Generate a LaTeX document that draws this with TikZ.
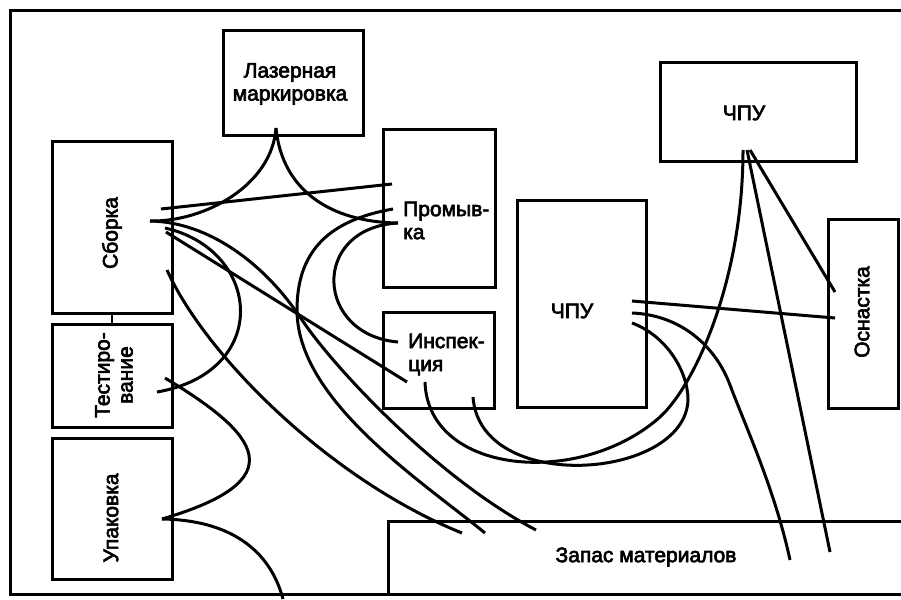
\documentclass[tikz,border=0pt]{standalone}
\usepackage{fontspec}
\setmainfont{Liberation Sans}[FakeBold=3]
\begin{document}
\begin{tikzpicture}[x=1pt,y=-1pt]
\tikzset{
  box/.style={draw, rectangle, inner sep=0pt, line width=3pt},
  lbl/.style={font=\fontsize{21}{23}\selectfont, inner sep=0pt},
  link/.style={line width=3pt},
  frame/.style={line width=3pt},
}
\useasboundingbox (0,0) rectangle (901,599);

% outer frame and the material store along the bottom
\draw[frame] (906,11) -- (10,11) -- (10,594) -- (906,594);
\draw[frame] (388,594) -- (388,521) -- (906,521);
\node[lbl] (zapas) at (646,557) {Запас материалов};

% work stations
\node[box, minimum width=140pt, minimum height=104pt] (laser) at (293,83) {};
\node[box, minimum width=120pt, minimum height=172pt] (sborka) at (112,227) {};
\node[box, minimum width=120pt, minimum height=103pt] (test) at (112,375.5) {};
\node[box, minimum width=120pt, minimum height=141pt] (upak) at (112,508.5) {};
\node[box, minimum width=112pt, minimum height=158pt] (promyv) at (439,208) {};
\node[box, minimum width=111pt, minimum height=96pt] (insp) at (438.5,360) {};
\node[box, minimum width=129pt, minimum height=207pt] (cnc) at (581.5,303.5) {};
\node[box, minimum width=196pt, minimum height=98pt] (cnctop) at (758,112) {};
\node[box, minimum width=70pt, minimum height=189pt] (osn) at (863,313.5) {};

% station labels
\node[lbl, align=center] (laser-t) at (290,84) {Лазерная\\маркировка};
\node[lbl, rotate=90] (sborka-t) at (112,233) {Сборка};
\node[lbl, rotate=90, align=center] (test-t) at (114,375) {Тестиро-\\вание};
\node[lbl, rotate=90] (upak-t) at (111,518) {Упаковка};
\node[lbl, anchor=west, align=left] (promyv-t) at (403,220.5) {Промыв-\\ка};
\node[lbl, anchor=west, align=left] (insp-t) at (408,354.5) {Инспек-\\ция};
\node[lbl] (cnc-t) at (572,311) {ЧПУ};
\node[lbl] (cnctop-t) at (744,113) {ЧПУ};
\node[lbl, rotate=90] (osn-t) at (862,312) {Оснастка};

% link between assembly and testing
\draw[line width=2.2pt] (sborka.south) -- (test.north);

% connection points
\coordinate (lz) at (276,128);
\coordinate (sbA) at (150,221);
\coordinate (sbC) at (161,209);
\coordinate (sbH) at (165,228);
\coordinate (sbI) at (166,232);
\coordinate (sbD) at (167,270);
\coordinate (prC) at (392,184);
\coordinate (prM) at (393,209);
\coordinate (prB) at (398,223);
\coordinate (inL) at (398,342);
\coordinate (inI) at (407,382);
\coordinate (inQ) at (425,382);
\coordinate (inP) at (473,397);
\coordinate (tsH) at (157,392);
\coordinate (tsF) at (165,378);
\coordinate (upF) at (162,519);
\coordinate (gEnd) at (283,599);
\coordinate (zD) at (462,533);
\coordinate (zM) at (485,533);
\coordinate (zJ) at (536,530);
\coordinate (zO) at (790,560);
\coordinate (z2) at (830,552);
\coordinate (cnN) at (632,301);
\coordinate (cnO) at (632,313);
\coordinate (cnP) at (632,323);
\coordinate (ct1) at (743,150);
\coordinate (ct2) at (747,150);
\coordinate (ct3) at (750,150);
\coordinate (osN) at (835,318);
\coordinate (os3) at (835,292);

% flows on the left
\draw[link] (lz) .. controls (272,185) and (205,222) .. (sbA);
\draw[link] (lz) .. controls (282,190) and (330,222) .. (prB);
\draw[link] (sbC) -- (prC);
\draw[link] (sbA) .. controls (210,222) and (265,265) .. (300,317)
                  .. controls (335,370) and (440,480) .. (zJ);
\draw[link] (prM) .. controls (330,220) and (297,250) .. (297,310)
                  .. controls (297,400) and (420,480) .. (zM);
\draw[link] (prB) .. controls (310,228) and (315,335) .. (inL);
\draw[link] (sbH) .. controls (262,250) and (272,372) .. (tsH);
\draw[link] (sbI) -- (inI);
\draw[link] (sbD) .. controls (205,355) and (330,480) .. (zD);
\draw[link] (tsF) .. controls (260,435) and (295,480) .. (upF);
\draw[link] (upF) .. controls (230,520) and (270,550) .. (gEnd);

% flows on the right
\draw[link] (ct1) .. controls (743,280) and (695,385) .. (660,417)
                  .. controls (580,488) and (428,475) .. (inQ);
\draw[link] (cnP) .. controls (665,335) and (688,370) .. (688,400)
                  .. controls (685,480) and (480,495) .. (inP);
\draw[link] (cnO) .. controls (680,315) and (715,345) .. (730,385)
                  .. controls (745,425) and (775,490) .. (zO);
\draw[link] (cnN) -- (osN);
\draw[link] (ct2) -- (z2);
\draw[link] (ct3) -- (os3);
\end{tikzpicture}
\end{document}
